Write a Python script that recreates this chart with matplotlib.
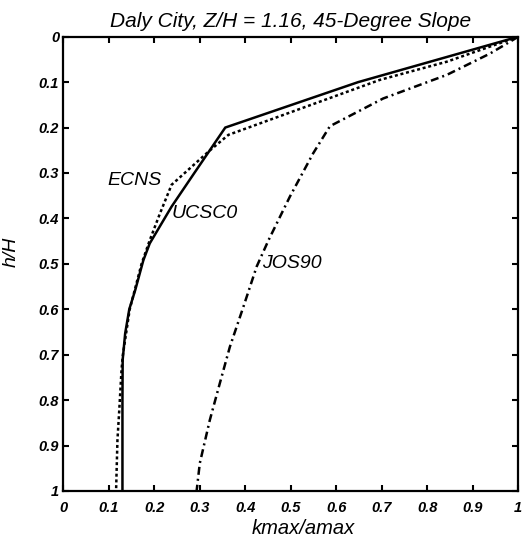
import matplotlib
matplotlib.use("Agg")
import matplotlib.pyplot as plt
from matplotlib.ticker import FuncFormatter

# =========================
# DATA
# =========================
# UCSC0 - solid
ucsc0_k = [1.0, 0.648, 0.356, 0.288, 0.238, 0.19, 0.176, 0.158, 0.145, 0.136, 0.1305, 0.130, 0.130, 0.130]
ucsc0_h = [0.0, 0.1, 0.2, 0.3, 0.374, 0.455, 0.492, 0.558, 0.6, 0.653, 0.711, 0.8, 0.9, 1.0]

# ECNS - dotted
ecns_k = [1.0, 0.843, 0.696, 0.363, 0.319, 0.238, 0.2125, 0.19, 0.172, 0.146, 0.131, 0.128, 0.123, 0.119, 0.116]
ecns_h = [0.0, 0.055, 0.095, 0.216, 0.253, 0.326, 0.389, 0.448, 0.5, 0.6, 0.7, 0.733, 0.822, 0.888, 1.0]

# JOS90 - dash-dot
jos90_k = [1.0, 0.975, 0.938, 0.843, 0.703, 0.586, 0.549, 0.498, 0.451, 0.425, 0.396, 0.366, 0.344, 0.322, 0.300, 0.293]
jos90_h = [0.0, 0.015, 0.037, 0.084, 0.136, 0.197, 0.257, 0.352, 0.448, 0.506, 0.594, 0.683, 0.763, 0.844, 0.939, 1.0]

tick_vals = [0, 0.1, 0.2, 0.3, 0.4, 0.5, 0.6, 0.7, 0.8, 0.9, 1]

# (text, k, h) for the curve labels
curve_labels = [("ECNS", 0.098, 0.317), ("UCSC0", 0.238, 0.39), ("JOS90", 0.436, 0.5)]

TITLE = "Daly City, Z/H = 1.16, 45-Degree Slope"

# =========================
# PLOT
# =========================
plt.rcParams["font.family"] = ["Liberation Sans", "DejaVu Sans"]

fig = plt.figure(figsize=(5.24, 5.39), dpi=100)
ax = fig.add_axes([0.1208, 0.0891, 0.8683, 0.8428])

lw = 1.8
ax.plot(ucsc0_k, ucsc0_h, color="black", lw=lw, solid_joinstyle="miter")
ax.plot(ecns_k, ecns_h, color="black", lw=lw, linestyle=(0, (1.2, 1.1)))
ax.plot(jos90_k, jos90_h, color="black", lw=lw, linestyle=(0, (3.2, 1.6, 0.8, 1.6)))

for txt, kx, hy in curve_labels:
    ax.text(kx, hy, txt, fontsize=14, style="italic", ha="left", va="center")

ax.set_xlim(0, 1)
ax.set_ylim(1, 0)
ax.set_xticks(tick_vals)
ax.set_yticks(tick_vals)
fmt = FuncFormatter(lambda v, p: "%g" % v)
ax.xaxis.set_major_formatter(fmt)
ax.yaxis.set_major_formatter(fmt)

ax.tick_params(direction="in", length=4, width=1.5, top=True, right=True,
               labelsize=10.5, pad=3)
ax.tick_params(axis="x", pad=7)
for lbl in ax.get_xticklabels() + ax.get_yticklabels():
    lbl.set_fontweight("bold")
    lbl.set_fontstyle("italic")

for sp in ax.spines.values():
    sp.set_linewidth(1.6)

ax.set_title(TITLE, fontsize=15, style="italic", pad=7)
ax.set_xlabel("kmax/amax", fontsize=14.5, style="italic")
ax.set_ylabel("h/H", fontsize=14, style="italic")
ax.xaxis.set_label_coords(0.527, -0.062)
ax.yaxis.set_label_coords(-0.095, 0.526)

fig.savefig("out.png", dpi=100)
